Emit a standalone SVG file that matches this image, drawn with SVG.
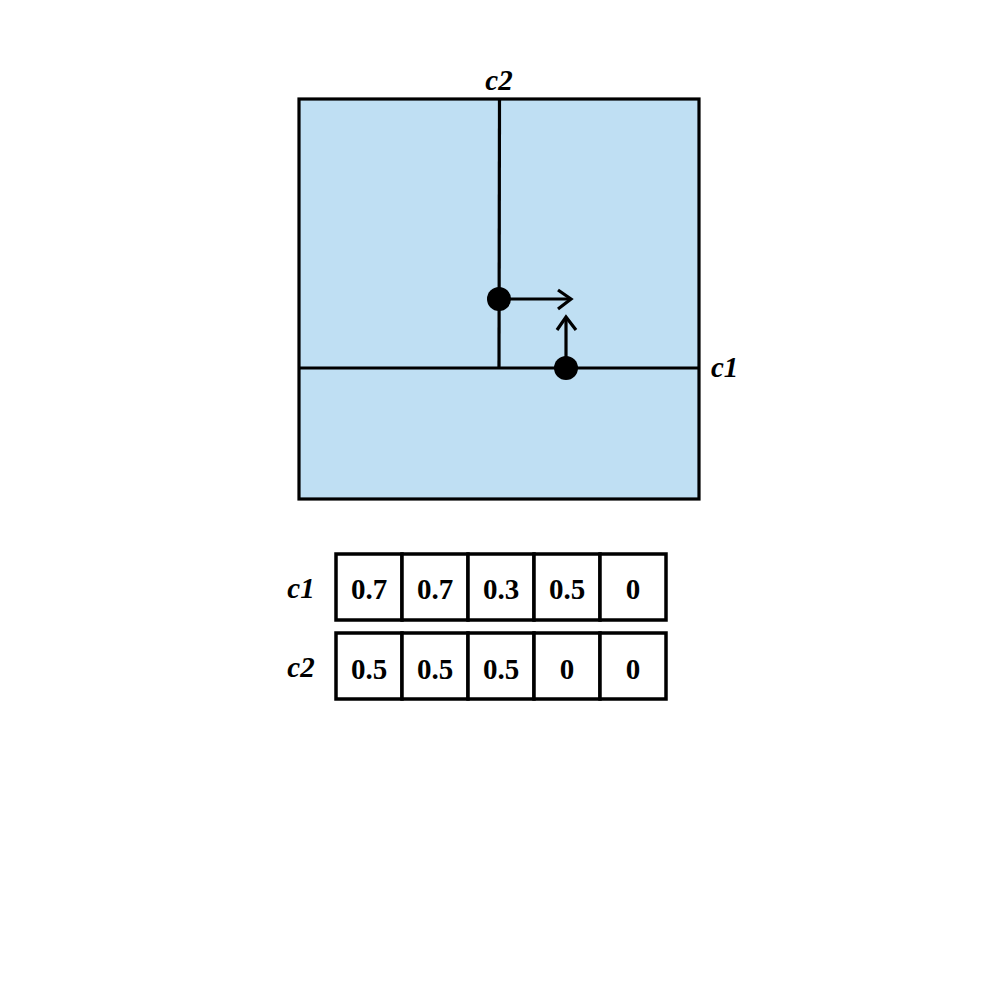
<svg xmlns="http://www.w3.org/2000/svg" width="1000" height="1000" viewBox="0 0 1000 1000">
<style>
.ln{stroke:#000;stroke-width:3.2;fill:none}
.cell{fill:#fff;stroke:#000;stroke-width:3.5}
.num{font-family:"Liberation Serif",serif;font-weight:bold;font-size:29px;text-anchor:middle}
.lbl{font-family:"Liberation Serif",serif;font-weight:bold;font-style:italic;font-size:29px}
</style>
<rect width="1000" height="1000" fill="#fff"/>
<g id="grid">
<rect x="299" y="99" width="400" height="400" fill="#bfdff3" stroke="#000" stroke-width="3.2"/>
<line class="ln" x1="499.5" y1="99" x2="499" y2="368"/>
<line class="ln" x1="299" y1="368" x2="699" y2="368"/>
<text class="lbl" x="499" y="90" text-anchor="middle">c2</text>
<text class="lbl" x="711" y="377">c1</text>
</g>
<g id="connectors">
<line class="ln" x1="499" y1="299" x2="571" y2="299"/>
<polyline class="ln" points="558,290 571,299 558,309"/>
<line class="ln" x1="566" y1="368" x2="566" y2="317"/>
<polyline class="ln" points="557,330 566,317 576,330"/>
</g>
<g id="points">
<circle cx="499" cy="299" r="12" fill="#000"/>
<circle cx="566" cy="368" r="12" fill="#000"/>
</g>
<g id="table-c1">
<text class="lbl" x="301" y="598" text-anchor="middle">c1</text>
<rect class="cell" x="336" y="554" width="66" height="66"/>
<rect class="cell" x="402" y="554" width="66" height="66"/>
<rect class="cell" x="468" y="554" width="66" height="66"/>
<rect class="cell" x="534" y="554" width="66" height="66"/>
<rect class="cell" x="600" y="554" width="66" height="66"/>
<text class="num" x="369" y="599">0.7</text>
<text class="num" x="435" y="599">0.7</text>
<text class="num" x="501" y="599">0.3</text>
<text class="num" x="567" y="599">0.5</text>
<text class="num" x="633" y="599">0</text>
</g>
<g id="table-c2">
<text class="lbl" x="301" y="677" text-anchor="middle">c2</text>
<rect class="cell" x="336" y="633" width="66" height="66"/>
<rect class="cell" x="402" y="633" width="66" height="66"/>
<rect class="cell" x="468" y="633" width="66" height="66"/>
<rect class="cell" x="534" y="633" width="66" height="66"/>
<rect class="cell" x="600" y="633" width="66" height="66"/>
<text class="num" x="369" y="679">0.5</text>
<text class="num" x="435" y="679">0.5</text>
<text class="num" x="501" y="679">0.5</text>
<text class="num" x="567" y="679">0</text>
<text class="num" x="633" y="679">0</text>
</g>
</svg>
